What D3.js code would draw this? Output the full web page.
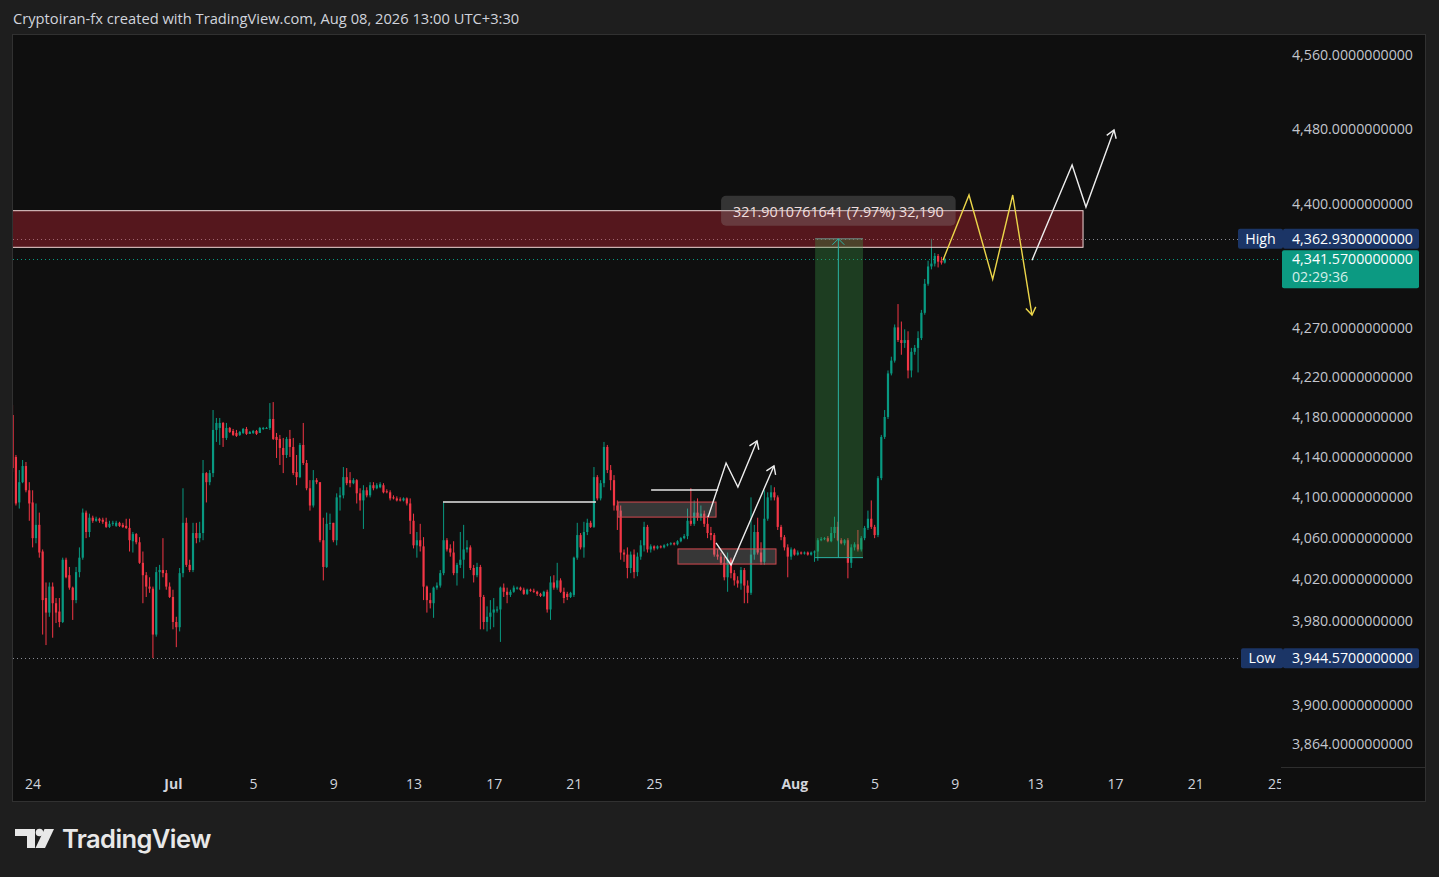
<!DOCTYPE html>
<html>
<head>
<meta charset="utf-8">
<title>Cryptoiran-fx chart</title>
<script src="https://cdn.jsdelivr.net/npm/d3@7/dist/d3.min.js"></script>
<style>
  html, body { margin: 0; padding: 0; background: #1e1e1e; overflow: hidden; }
  svg { display: block; font-family: "Open Sans", sans-serif; }
</style>
</head>
<body>
<script>
(function() {

  // 4h bars [open, high, low, close], one array per week
  var week1 = [
    [4182,4192,4125,4129],[4140,4142,4092,4094],[4095,4127,4089,4115],[4115,4137,4114,4131],[4131,4135,4105,4107],[4107,4115,4077,4094],[4095,4107,4051,4060],[4060,4094,4055,4073],[4073,4085,4041,4046],[4047,4049,3967,4000],
    [4002,4017,3957,3988],[3988,4017,3984,4013],[4013,4017,3964,3997],[3997,4002,3978,3988],[3989,4002,3974,3979],[3979,4041,3978,4039],[4039,4041,4021,4022],[4024,4032,4010,4012],[4012,4013,3981,4000],[4000,4032,3997,4027],
    [4027,4051,4022,4041],[4041,4089,4039,4085],[4085,4087,4060,4066],[4066,4084,4061,4080],[4080,4082,4075,4077],[4077,4081,4076,4079],[4079,4080,4075,4077],[4078,4080,4074,4076],[4076,4080,4070,4071],[4071,4077,4070,4074],
    [4074,4077,4072,4075],[4072,4077,4071,4075],[4075,4076,4071,4072],[4073,4075,4070,4071],[4072,4079,4069,4070],[4070,4079,4047,4058],[4057,4066,4046,4064],[4064,4065,4054,4056],[4056,4061,4035,4036],[4036,4047,3997,4024],
    [4024,4027,4003,4013],[4013,4022,4007,4011]
  ];
  var week2 = [
    [4011,4013,3944.57,3967],[3967,4032,3965,4027],[4027,4034,4010,4029],[4029,4060,4022,4026],[4026,4029,4010,4013],[4013,4017,4002,4003],[4003,4010,3972,3979],[3979,3984,3955,3974],[3974,4031,3970,4026],[4026,4109,4022,4075],
    [4075,4080,4032,4034],[4034,4039,4027,4029],[4029,4075,4027,4065],[4065,4075,4055,4060],[4060,4076,4056,4065],[4065,4137,4058,4124],[4124,4125,4095,4115],[4115,4127,4112,4124],[4124,4187,4120,4167],[4167,4179,4155,4174],
    [4169,4179,4152,4174],[4174,4175,4150,4159],[4159,4174,4157,4169],[4169,4170,4164,4165],[4166,4168,4161,4162],[4164,4167,4160,4161],[4162,4166,4161,4165],[4164,4169,4163,4168],[4168,4170,4162,4163],[4163,4166,4163,4165],
    [4164,4167,4163,4166],[4166,4167,4162,4163],[4164,4170,4164,4169],[4168,4170,4167,4169],[4168,4170,4168,4169],[4169,4194,4167,4178],[4178,4195,4157,4158],[4160,4164,4139,4157],[4158,4162,4132,4149],[4149,4159,4124,4142],
    [4142,4160,4139,4158],[4158,4167,4140,4150]
  ];
  var week3 = [
    [4150,4159,4122,4124],[4125,4142,4112,4120],[4120,4154,4119,4152],[4152,4174,4132,4134],[4134,4137,4107,4109],[4109,4117,4087,4092],[4092,4127,4090,4117],[4117,4119,4113,4115],[4115,4115,4056,4058],[4058,4080,4019,4032],
    [4032,4085,4031,4074],[4074,4084,4068,4075],[4075,4075,4056,4058],[4058,4104,4053,4100],[4100,4110,4087,4102],[4102,4130,4099,4120],[4120,4129,4112,4114],[4117,4125,4110,4114],[4114,4119,4113,4117],[4117,4118,4094,4104],
    [4104,4109,4087,4097],[4097,4112,4069,4107],[4107,4110,4100,4102],[4102,4115,4100,4112],[4112,4115,4107,4109],[4109,4114,4108,4112],[4110,4115,4109,4113],[4112,4114,4104,4105],[4106,4108,4104,4105],[4105,4107,4097,4099],
    [4100,4102,4098,4099],[4099,4101,4096,4097],[4098,4100,4096,4097],[4097,4100,4096,4099],[4099,4100,4092,4094],[4094,4099,4064,4077],[4077,4084,4050,4053],[4053,4066,4041,4058],[4058,4074,4047,4052],[4052,4061,4000,4013],
    [4013,4014,3988,4000],[4000,4007,3992,3997]
  ];
  var week4 = [
    [3997,4013,3983,4012],[4012,4017,4010,4014],[4014,4029,4012,4026],[4026,4095,4024,4058],[4058,4060,4047,4049],[4050,4054,4042,4046],[4046,4057,4024,4026],[4026,4036,4014,4034],[4034,4066,4031,4039],[4039,4073,4021,4049],
    [4049,4058,4046,4051],[4051,4053,4029,4031],[4031,4034,4017,4024],[4024,4036,4022,4032],[4032,4034,3972,4003],[4003,4005,3972,3979],[3979,3994,3970,3984],[3984,4000,3972,3988],[3988,4002,3974,3991],[3990,3994,3988,3991],
    [3991,4013,3960,4012],[4012,4016,4003,4008],[4008,4012,3997,4005],[4005,4010,4003,4008],[4008,4014,4007,4012],[4011,4013,4010,4012],[4012,4013,4009,4010],[4010,4012,4005,4006],[4006,4011,4005,4010],[4010,4011,4008,4009],
    [4009,4011,4007,4008],[4008,4009,4004,4006],[4006,4007,4003,4004],[4004,4009,4003,4008],[4008,4010,3988,3991],[3991,4023,3981,4017],[4017,4024,4010,4012],[4012,4036,4010,4019],[4019,4021,4007,4008],[4008,4012,3997,4002],
    [4006,4008,4000,4003],[4003,4008,4002,4007]
  ];
  var week5 = [
    [4005,4042,4003,4041],[4041,4075,4039,4063],[4063,4065,4049,4051],[4051,4076,4041,4066],[4066,4079,4063,4075],[4075,4077,4070,4071],[4071,4130,4070,4120],[4120,4122,4097,4099],[4099,4117,4097,4114],[4114,4155,4110,4150],
    [4150,4152,4124,4127],[4127,4132,4107,4117],[4117,4122,4087,4092],[4092,4097,4068,4087],[4087,4092,4039,4046],[4046,4049,4037,4044],[4044,4051,4021,4031],[4031,4047,4026,4044],[4044,4049,4021,4027],[4027,4046,4023,4042],
    [4042,4058,4039,4053],[4053,4076,4047,4071],[4071,4073,4046,4049],[4049,4054,4046,4052],[4052,4053,4048,4050],[4050,4053,4049,4052],[4052,4053,4050,4051],[4051,4054,4050,4053],[4053,4055,4052,4054],[4054,4056,4053,4055],
    [4055,4056,4053,4054],[4054,4058,4053,4057],[4057,4061,4056,4060],[4060,4064,4059,4062],[4062,4089,4059,4077],[4077,4109,4072,4074],[4074,4097,4072,4085],[4085,4099,4077,4080],[4080,4092,4077,4084],[4084,4087,4071,4074],
    [4074,4082,4060,4065],[4065,4071,4058,4063]
  ];
  var week6 = [
    [4063,4065,4042,4044],[4044,4049,4039,4042],[4042,4046,4034,4036],[4036,4042,4019,4022],[4022,4046,4008,4039],[4039,4041,4021,4026],[4026,4029,4014,4019],[4019,4023,4012,4016],[4016,4032,4010,4029],[4029,4031,3997,4014],
    [4014,4019,3997,4007],[4007,4100,4005,4044],[4044,4073,4039,4066],[4066,4080,4044,4046],[4046,4056,4034,4037],[4037,4107,4034,4079],[4079,4105,4077,4100],[4100,4112,4097,4105],[4105,4110,4097,4100],[4100,4102,4068,4071],
    [4071,4073,4058,4061],[4061,4063,4048,4051],[4051,4054,4022,4042],[4042,4051,4039,4049],[4049,4050,4043,4044],[4044,4048,4043,4046],[4046,4047,4044,4045],[4045,4047,4044,4046],[4046,4047,4043,4044],[4044,4047,4043,4046],
    [4046,4048,4037,4047],[4047,4060,4038,4058],[4058,4061,4057,4059],[4059,4061,4058,4060],[4060,4062,4056,4057],[4057,4071,4056,4065],[4065,4081,4060,4071],[4071,4076,4057,4058],[4058,4060,4054,4055],[4055,4059,4053,4058],
    [4058,4060,4021,4036],[4036,4054,4031,4051]
  ];
  var week7 = [
    [4051,4056,4048,4054],[4054,4068,4047,4049],[4049,4062,4047,4060],[4060,4072,4058,4070],[4070,4087,4068,4079],[4079,4097,4069,4071],[4071,4073,4060,4063],[4063,4121,4061,4119],[4119,4162,4117,4160],[4160,4187,4158,4180],
    [4180,4227,4178,4224],[4224,4241,4222,4237],[4237,4274,4235,4271],[4271,4295,4256,4258],[4258,4277,4243,4255],[4255,4269,4250,4258],[4258,4267,4219,4227],[4227,4250,4220,4246],[4246,4253,4243,4250],[4250,4267,4225,4260],
    [4260,4289,4258,4286],[4286,4321,4284,4316],[4316,4340,4314,4334],[4334,4362.93,4331,4337],[4337,4348,4334,4345],[4345,4347,4333,4339],[4340,4344,4336,4338],[4338,4343,4337,4341.57]
  ];
  var firstBarTime = "2026-06-22T23:30:00Z";
  var barHours = 4;

  var priceTicks = [4560, 4480, 4400, 4270, 4220, 4180, 4140, 4100, 4060, 4020, 3980, 3900, 3864];
  var timeTicks = ["2026-06-24", "2026-07-01", "2026-07-05", "2026-07-09", "2026-07-13", "2026-07-17", "2026-07-21", "2026-07-25",
                   "2026-08-01", "2026-08-05", "2026-08-09", "2026-08-13", "2026-08-17", "2026-08-21", "2026-08-25"];
  var timeLabels = ["24", "Jul", "5", "9", "13", "17", "21", "25", "Aug", "5", "9", "13", "17", "21", "25"];
  var monthLabels = ["Jul", "Aug"];

  var highPrice = 4362.93, lowPrice = 3944.57, lastPrice = 4341.57, countdown = "02:29:36";
  var title = "Cryptoiran-fx created with TradingView.com, Aug 08, 2026 13:00 UTC+3:30";

  // drawings: [time, price]
  var zone = {from: "2026-06-10T00:00:00Z", to: "2026-08-15T09:00:00Z", top: 4392.5, bottom: 4354};
  var levelLines = [
    [["2026-07-14T10:48:00Z", 4095.4], ["2026-07-22T01:55:00Z", 4095.4]],
    [["2026-07-24T19:55:00Z", 4107.3], ["2026-07-28T04:05:00Z", 4107.3]]
  ];
  var grayBoxes = [
    {from: "2026-07-23T04:20:00Z", to: "2026-07-28T01:40:00Z", top: 4095.4, bottom: 4080.6},
    {from: "2026-07-26T04:05:00Z", to: "2026-07-31T01:25:00Z", top: 4049.5, bottom: 4034.8}
  ];
  var whitePath1 = [["2026-07-27T16:05:00Z", 4080.6], ["2026-07-28T13:40:00Z", 4134], ["2026-07-29T03:50:00Z", 4110.2], ["2026-07-30T02:40:00Z", 4156]];
  var whitePath2 = [["2026-07-28T01:40:00Z", 4055.3], ["2026-07-28T19:40:00Z", 4033.9], ["2026-07-30T23:00:00Z", 4131.1]];
  var yellowPath = [["2026-08-08T09:20:00Z", 4340.5], ["2026-08-09T16:30:00Z", 4409.1], ["2026-08-10T20:50:00Z", 4320.8], ["2026-08-11T20:50:00Z", 4409.1], ["2026-08-12T19:55:00Z", 4283.7]];
  var whitePath3 = [["2026-08-12T19:55:00Z", 4340.5], ["2026-08-14T19:55:00Z", 4441.0], ["2026-08-15T12:30:00Z", 4396.4], ["2026-08-16T22:05:00Z", 4478.5]];
  var ruler = {from: "2026-08-02T00:15:00Z", to: "2026-08-04T09:35:00Z", mid: "2026-08-03T04:05:00Z", low: 4041.03, high: 4362.93,
               label: "321.9010761641 (7.97%) 32,190"};

  var width = 1439, height = 877;
  var left = 13, right = 1281, top = 35, bottom = 767, axisRight = 1425, panelBottom = 801;
  var upColor = "#089981", downColor = "#f23645";

  var t0 = new Date(firstBarTime).getTime();
  var bars = week1.concat(week2, week3, week4, week5, week6, week7).map(function(d, i) {
    return {t: new Date(t0 + i * barHours * 3600000), o: d[0], h: d[1], l: d[2], c: d[3]};
  });

  var x = d3.scaleUtc().domain([new Date("2026-06-23T00:00:00Z"), new Date("2026-08-25T06:00:00Z")]).range([left, right]);
  var y = d3.scaleLog().domain([3864, 4560]).range([744, 55]);
  var fmt = d3.format(",.10f");
  var T = function(s) { return x(new Date(s)); };

  var svg = d3.select("body").append("svg").attr("width", width).attr("height", height);
  var defs = svg.append("defs");
  defs.append("clipPath").attr("id", "plot").append("rect")
    .attr("x", left).attr("y", top).attr("width", right - left).attr("height", bottom - top);
  defs.append("clipPath").attr("id", "taxis").append("rect")
    .attr("x", left).attr("y", bottom).attr("width", right - left).attr("height", panelBottom - bottom);

  svg.append("rect").attr("width", width).attr("height", height).attr("fill", "#1e1e1e");
  svg.append("text").attr("x", 13).attr("y", 24).attr("fill", "#d1d4dc").style("font-size", "14.7px").text(title);

  svg.append("rect").attr("x", 12.5).attr("y", 34.5).attr("width", axisRight - 12).attr("height", panelBottom - 34)
    .attr("fill", "#0f0f0f").attr("stroke", "#313131");
  svg.append("line").attr("x1", right).attr("x2", axisRight).attr("y1", bottom + 0.5).attr("y2", bottom + 0.5).attr("stroke", "#2e2e2e");

  var plot = svg.append("g").attr("clip-path", "url(#plot)");

  // dotted reference lines
  plot.append("line").attr("x1", left).attr("x2", 1238).attr("y1", Math.round(y(highPrice)) + 0.5).attr("y2", Math.round(y(highPrice)) + 0.5)
    .attr("stroke", "#8a8d96").attr("stroke-dasharray", "1,3");
  plot.append("line").attr("x1", left).attr("x2", right).attr("y1", Math.round(y(lastPrice)) + 0.5).attr("y2", Math.round(y(lastPrice)) + 0.5)
    .attr("stroke", upColor).attr("stroke-dasharray", "1,3");
  plot.append("line").attr("x1", left).attr("x2", 1241).attr("y1", Math.round(y(lowPrice)) + 0.5).attr("y2", Math.round(y(lowPrice)) + 0.5)
    .attr("stroke", "#8a8d96").attr("stroke-dasharray", "1,3");

  // candles
  var step = x(new Date(t0 + barHours * 3600000)) - x(new Date(t0));
  var bw = step * 0.66;
  var col = function(d) { return d.c >= d.o ? upColor : downColor; };
  plot.selectAll("rect.wick").data(bars).enter().append("rect").attr("class", "wick")
    .attr("x", function(d) { return x(d.t) - 0.5; })
    .attr("y", function(d) { return y(d.h); })
    .attr("width", 1)
    .attr("height", function(d) { return Math.max(1, y(d.l) - y(d.h)); })
    .attr("fill", col);
  plot.selectAll("rect.body").data(bars).enter().append("rect").attr("class", "body")
    .attr("x", function(d) { return x(d.t) - bw / 2; })
    .attr("y", function(d) { return y(Math.max(d.o, d.c)); })
    .attr("width", bw)
    .attr("height", function(d) { return Math.max(1, Math.abs(y(d.o) - y(d.c))); })
    .attr("fill", col);

  // resistance zone
  plot.append("rect").attr("x", T(zone.from)).attr("y", y(zone.top))
    .attr("width", T(zone.to) - T(zone.from)).attr("height", y(zone.bottom) - y(zone.top))
    .attr("fill", "rgba(200,38,52,0.38)").attr("stroke", "#f2d6d6").attr("stroke-width", 1);

  // gray boxes
  plot.selectAll("rect.gbox").data(grayBoxes).enter().append("rect").attr("class", "gbox")
    .attr("x", function(d) { return T(d.from); })
    .attr("y", function(d) { return y(d.top); })
    .attr("width", function(d) { return T(d.to) - T(d.from); })
    .attr("height", function(d) { return y(d.bottom) - y(d.top); })
    .attr("fill", "rgba(160,160,160,0.28)").attr("stroke", "#d4484f").attr("stroke-width", 1);

  var line = d3.line().x(function(d) { return T(d[0]); }).y(function(d) { return y(d[1]); });

  levelLines.forEach(function(pts) {
    plot.append("path").attr("d", line(pts)).attr("fill", "none").attr("stroke", "#e6e6e6").attr("stroke-width", 1.5);
  });

  function drawArrow(pts, color) {
    plot.append("path").attr("d", line(pts)).attr("fill", "none").attr("stroke", color)
      .attr("stroke-width", 1.4).attr("stroke-linejoin", "miter");
    var a = pts[pts.length - 2], b = pts[pts.length - 1];
    var x1 = T(a[0]), y1 = y(a[1]), x2 = T(b[0]), y2 = y(b[1]);
    var ang = Math.atan2(y2 - y1, x2 - x1), len = 9;
    var head = [[x2 + len * Math.cos(ang + 2.55), y2 + len * Math.sin(ang + 2.55)], [x2, y2],
                [x2 + len * Math.cos(ang - 2.55), y2 + len * Math.sin(ang - 2.55)]];
    plot.append("path").attr("d", d3.line()(head)).attr("fill", "none").attr("stroke", color).attr("stroke-width", 1.4);
  }
  drawArrow(whitePath1, "#eeeeee");
  drawArrow(whitePath2, "#eeeeee");
  drawArrow(yellowPath, "#ecd64a");
  drawArrow(whitePath3, "#eeeeee");

  // price range ruler
  var rx0 = T(ruler.from), rx1 = T(ruler.to), rxm = T(ruler.mid), ryTop = y(ruler.high), ryBot = y(ruler.low);
  plot.append("rect").attr("x", rx0).attr("y", ryTop).attr("width", rx1 - rx0).attr("height", ryBot - ryTop)
    .attr("fill", "rgba(60,160,70,0.32)");
  plot.append("line").attr("x1", rx0).attr("x2", rx1).attr("y1", ryTop).attr("y2", ryTop).attr("stroke", "#6f8f8a").attr("stroke-width", 1);
  plot.append("line").attr("x1", rx0).attr("x2", rx1).attr("y1", ryBot).attr("y2", ryBot).attr("stroke", "#2bb3a3").attr("stroke-width", 1);
  plot.append("line").attr("x1", rxm).attr("x2", rxm).attr("y1", ryTop).attr("y2", ryBot).attr("stroke", "#2bb3a3").attr("stroke-width", 1);
  plot.append("path").attr("d", d3.line()([[rxm - 6, ryTop + 6], [rxm, ryTop], [rxm + 6, ryTop + 6]]))
    .attr("fill", "none").attr("stroke", "#2bb3a3").attr("stroke-width", 1);

  var lbl = plot.append("g");
  var lblRect = lbl.append("rect").attr("rx", 5).attr("fill", "rgba(150,150,150,0.28)");
  var lblText = lbl.append("text").attr("x", rxm).attr("y", ryTop - 22).attr("text-anchor", "middle")
    .attr("fill", "#f0dede").style("font-size", "14.3px").text(ruler.label);
  var tw = lblText.node().getComputedTextLength();
  lblRect.attr("x", rxm - tw / 2 - 12).attr("y", ryTop - 43).attr("width", tw + 24).attr("height", 30);

  // price axis
  svg.selectAll("text.ptick").data(priceTicks).enter().append("text").attr("class", "ptick")
    .attr("x", 1292).attr("y", function(d) { return y(d) + 5; })
    .attr("fill", "#c3c6ce").style("font-size", "14.2px")
    .text(function(d) { return fmt(d); });

  function priceTag(price, name, tagX) {
    var yc = y(price);
    svg.append("rect").attr("x", tagX).attr("y", yc - 10).attr("width", 1283 - tagX).attr("height", 20).attr("rx", 2).attr("fill", "#1b3566");
    svg.append("rect").attr("x", 1283).attr("y", yc - 10).attr("width", 136).attr("height", 20).attr("rx", 2).attr("fill", "#1b3566");
    svg.append("text").attr("x", (tagX + 1283) / 2).attr("y", yc + 5).attr("text-anchor", "middle")
      .attr("fill", "#ffffff").style("font-size", "14.2px").text(name);
    svg.append("text").attr("x", 1292).attr("y", yc + 5).attr("fill", "#ffffff").style("font-size", "14.2px").text(fmt(price));
  }
  priceTag(highPrice, "High", 1238);
  priceTag(lowPrice, "Low", 1241);

  var yl = y(lastPrice);
  svg.append("rect").attr("x", 1282).attr("y", yl - 9).attr("width", 137).attr("height", 38).attr("rx", 2).attr("fill", "#0c9a82");
  svg.append("text").attr("x", 1292).attr("y", yl + 5).attr("fill", "#ffffff").style("font-size", "14.2px").text(fmt(lastPrice));
  svg.append("text").attr("x", 1292).attr("y", yl + 23).attr("fill", "#d4efe9").style("font-size", "14.2px").text(countdown);

  // time axis
  var tax = svg.append("g").attr("clip-path", "url(#taxis)");
  tax.selectAll("text").data(timeTicks).enter().append("text")
    .attr("x", function(d) { return x(new Date(d + "T00:00:00Z")); })
    .attr("y", 789)
    .attr("text-anchor", "middle")
    .attr("fill", "#d1d4dc")
    .style("font-size", "14px")
    .style("font-weight", function(d, i) { return monthLabels.indexOf(timeLabels[i]) >= 0 ? "700" : "400"; })
    .text(function(d, i) { return timeLabels[i]; });

  // logo
  var logo = svg.append("g").attr("fill", "#e8e8e8");
  logo.append("path").attr("d", "M15,829 H35 V848 H27 V836 H15 Z");
  logo.append("circle").attr("cx", 39.5).attr("cy", 832.5).attr("r", 3.8);
  logo.append("path").attr("d", "M44.5,829 H54 L45,848 H35.5 Z");
  logo.append("text").attr("x", 62).attr("y", 848).style("font-family", "Inter, sans-serif")
    .style("font-size", "25.5px").style("font-weight", "600").style("letter-spacing", "-0.6px").text("TradingView");

})();
</script>
</body>
</html>
